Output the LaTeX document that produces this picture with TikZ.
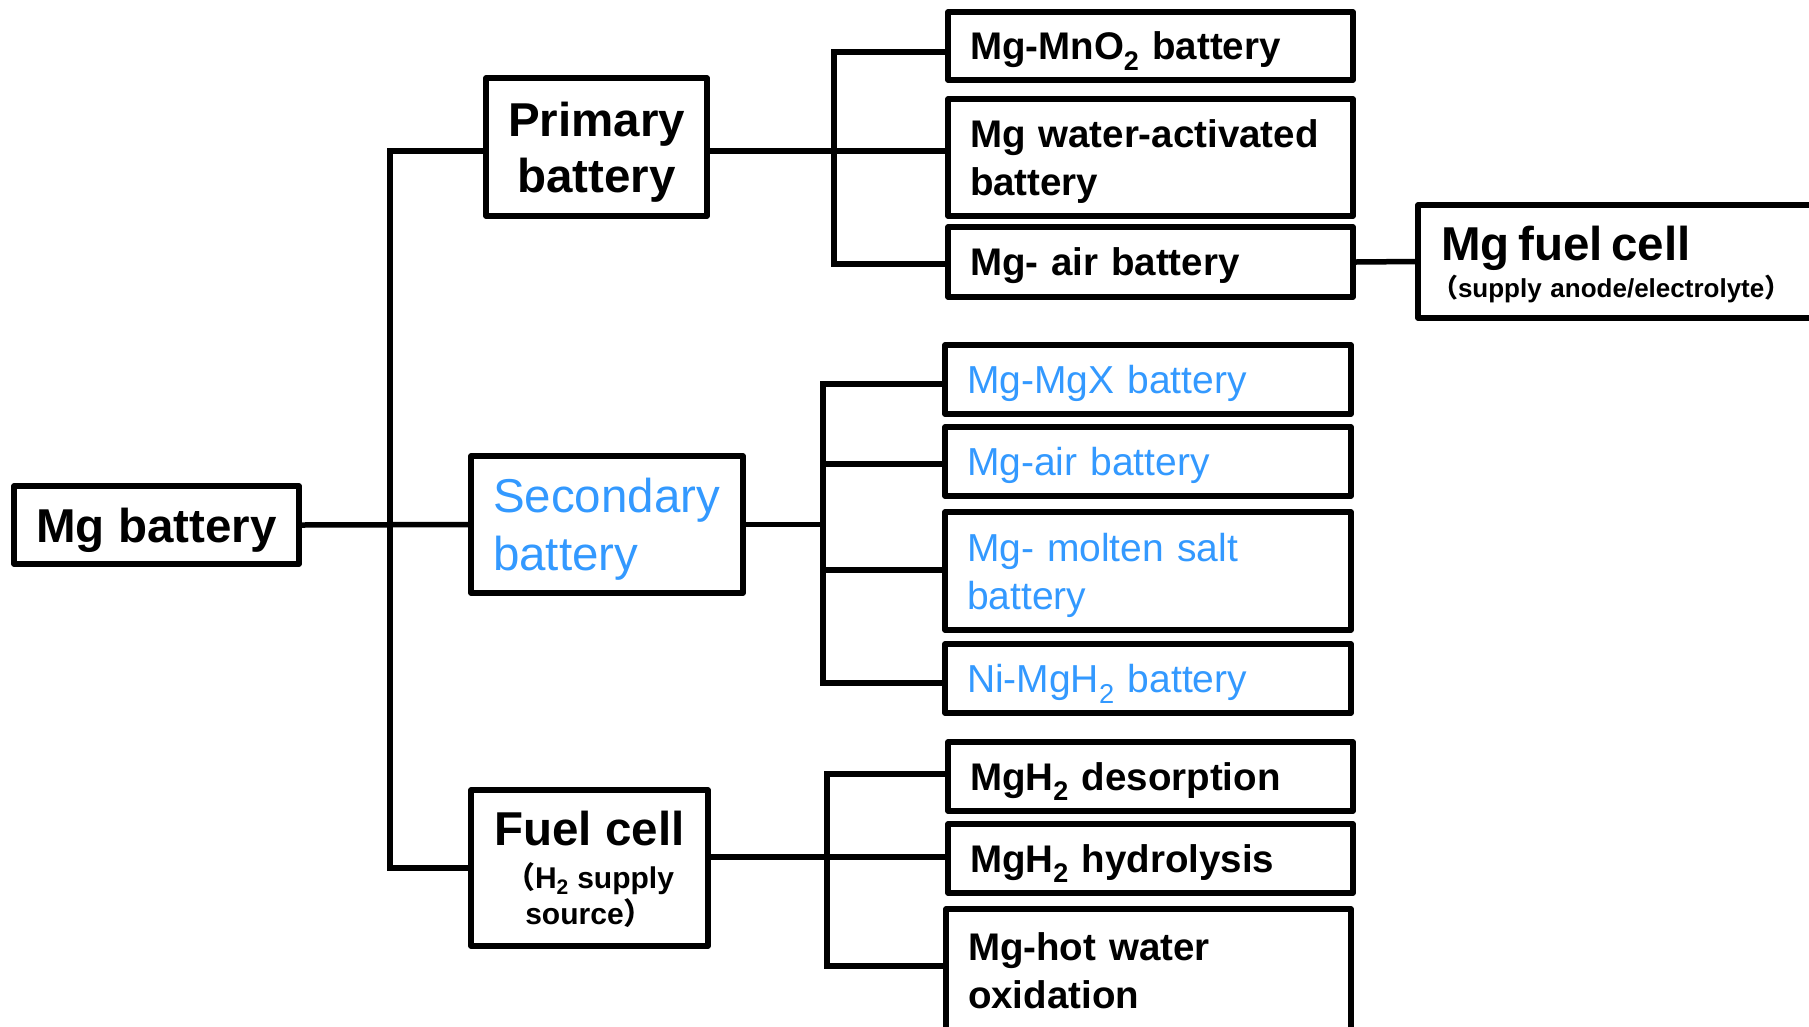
\documentclass[tikz,border=0pt]{standalone}
\usepackage{fontspec}
\setmainfont{Liberation Sans}
\newfontfamily\cjkfont{Noto Sans CJK SC}
\definecolor{skyb}{RGB}{51,153,255}
\newcommand\fbig{\fontsize{47.5}{56}\selectfont\bfseries}
\newcommand\fbigr{\fontsize{47.5}{58}\selectfont}
\newcommand\fleaf{\fontsize{38.5}{48}\selectfont\bfseries}
\newcommand\fleafr{\fontsize{39}{48}\selectfont}
\newcommand\fsmall{\fontsize{30}{36}\selectfont\bfseries}
\newcommand\fsmaller{\fontsize{26}{37}\selectfont\bfseries}
\newcommand\lp{{\cjkfont （}}
\newcommand\rp{{\cjkfont ）}}
\begin{document}
\begin{tikzpicture}[x=1pt,y=-1pt,
  box/.style={draw, line width=5.5pt, line join=round, inner ysep=0pt, inner xsep=0pt, text depth=0pt},
  leaf/.style={box, inner xsep=22pt, text width=361pt, align=left, font=\fleaf},
  bleaf/.style={box, inner xsep=22pt, text width=362pt, align=left, font=\fleafr, text=skyb},
  con/.style={line width=5.5pt},
]
\useasboundingbox (0,0) rectangle (1809,1026);
\clip (0,0) rectangle (1809,1026);

% main column
\node[box, minimum width=285pt, minimum height=78pt, font=\fbig] (mgb) at (156.5,525) {Mg battery};
\node[box, minimum width=221pt, minimum height=138pt, font=\fbig, align=center] (pri) at (596.5,147) {Primary\\battery};
\node[box, minimum width=272pt, minimum height=137pt, inner xsep=22pt, text width=228pt, align=left, font=\fbigr, text=skyb, text depth=58pt] (sec) at (607,524.5) {Secondary\\battery};
\node[box, minimum width=237pt, minimum height=156pt, align=center, font=\fsmall] (fc) at (589.5,868) {{\fbig Fuel cell}\\[7pt]\lp H\textsubscript{2} supply\\source\rp};

% primary leaves
\node[leaf, minimum height=68pt] (p1) at (1150.5,46) {Mg-MnO\textsubscript{2} battery};
\node[leaf, minimum height=117pt, text depth=48pt] (p2) at (1150.5,157.5) {\mbox{Mg water-activated}\\battery};
\node[leaf, minimum height=70pt] (p3) at (1150.5,262) {Mg- air battery};
\node[box, minimum width=482pt, minimum height=113pt, inner xsep=23pt, text width=436pt, align=left, font=\fsmaller, text depth=37pt] (mfc) at (1659,261.5) {{\fbig Mg fuel cell}\\\hspace*{-9pt}\lp supply anode/electrolyte\rp};

% secondary leaves
\node[bleaf, minimum height=69pt] (s1) at (1148,379.5) {Mg-MgX battery};
\node[bleaf, minimum height=69pt] (s2) at (1148,461.5) {Mg-air battery};
\node[bleaf, minimum height=118pt, text depth=48pt] (s3) at (1148,571) {\mbox{Mg- molten salt}\\battery};
\node[bleaf, minimum height=69pt] (s4) at (1148,678.5) {Ni-MgH\textsubscript{2} battery};

% fuel cell leaves
\node[leaf, minimum height=69pt] (f1) at (1150.5,776.5) {MgH\textsubscript{2} desorption};
\node[leaf, minimum height=69pt] (f2) at (1150.5,858.5) {MgH\textsubscript{2} hydrolysis};
\node[leaf, minimum height=124pt, text depth=48pt] (f3) at (1148.5,971) {\mbox{Mg-hot water}\\oxidation};

% trunk
\coordinate (b0) at (390,151);
\coordinate (b1) at (390,868);
\draw[con] (mgb.east) -- (sec.west);
\draw[con] (b0 -| pri.west) -- (b0) -- (b1) -- (b1 -| fc.west);

% primary bus
\coordinate (pt) at (834,52);
\coordinate (pm) at (834,151);
\coordinate (pb) at (834,264);
\draw[con] (pt -| p1.west) -- (pt) -- (pb) -- (pb -| p3.west);
\draw[con] (pm -| pri.east) -- (pm -| p2.west);
\draw[con] (p3.east) -- (mfc.west);

% secondary bus
\coordinate (st) at (823,384);
\coordinate (s2c) at (823,464);
\coordinate (s3c) at (823,570);
\coordinate (sb) at (823,683);
\draw[con] (st -| s1.west) -- (st) -- (sb) -- (sb -| s4.west);
\draw[con] (sec.east) -- (sec.east -| st);
\draw[con] (s2c) -- (s2c -| s2.west);
\draw[con] (s3c) -- (s3c -| s3.west);

% fuel bus
\coordinate (ft) at (827,774);
\coordinate (fm) at (827,857);
\coordinate (fb) at (827,966);
\draw[con] (ft -| f1.west) -- (ft) -- (fb) -- (fb -| f3.west);
\draw[con] (fm -| fc.east) -- (fm -| f2.west);
\end{tikzpicture}
\end{document}
